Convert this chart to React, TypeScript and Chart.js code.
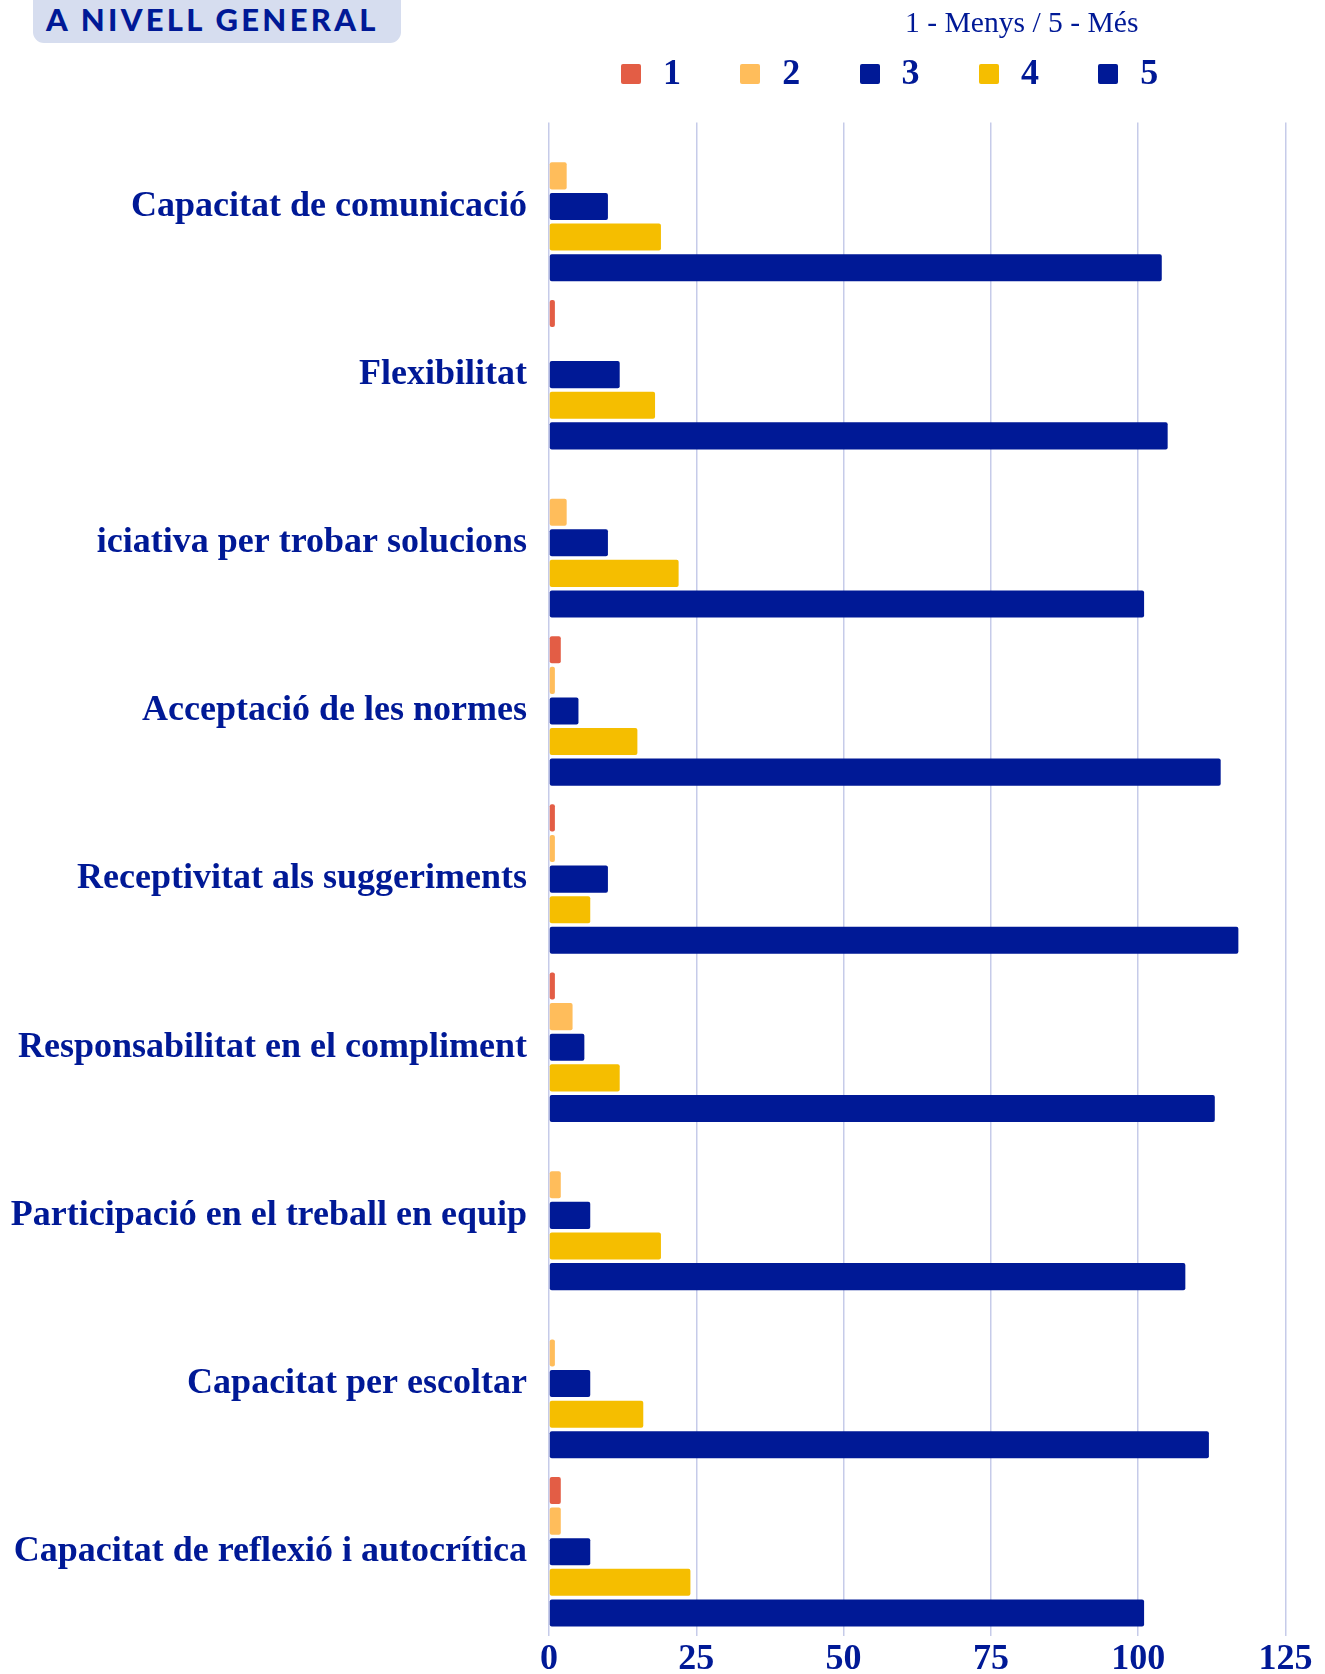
import React, { useEffect, useRef } from 'react';
import { Chart, registerables } from 'chart.js';

Chart.register(...registerables);

const categories = [
  'Capacitat de comunicació',
  'Flexibilitat',
  'iciativa per trobar solucions',
  'Acceptació de les normes',
  'Receptivitat als suggeriments',
  'Responsabilitat en el compliment',
  'Participació en el treball en equip',
  'Capacitat per escoltar',
  'Capacitat de reflexió i autocrítica',
];

const seriesLabels = ['1', '2', '3', '4', '5'];
const values1 = [0, 1, 0, 2, 1, 1, 0, 0, 2];
const values2 = [3, 0, 3, 1, 1, 4, 2, 1, 2];
const values3 = [10, 12, 10, 5, 10, 6, 7, 7, 7];
const values4 = [19, 18, 22, 15, 7, 12, 19, 16, 24];
const values5 = [104, 105, 101, 114, 117, 113, 108, 112, 101];
const seriesColors = ['#E35D45', '#FFBD5B', '#001996', '#F5BE00', '#001996'];
const xTicks = [0, 25, 50, 75, 100, 125];

const titleText = 'A NIVELL GENERAL';
const scaleNote = '1 - Menys / 5 - Més';

const NAVY = '#001996';
const SERIF = "'Liberation Serif', 'Times New Roman', serif";

export default function App() {
  const ref = useRef<HTMLCanvasElement>(null);

  useEffect(() => {
    const canvas = ref.current;
    if (!canvas) return;
    const series = [values1, values2, values3, values4, values5];
    const chart = new Chart(canvas, {
      type: 'bar',
      data: {
        labels: categories,
        datasets: series.map((d, i) => ({
          label: seriesLabels[i],
          data: d,
          backgroundColor: seriesColors[i],
          borderRadius: 2,
          borderSkipped: false,
          categoryPercentage: 0.91,
          barPercentage: 0.885,
        })),
      },
      options: {
        indexAxis: 'y',
        responsive: false,
        animation: false,
        layout: { padding: { top: 122.4, right: 39.5, bottom: 0, left: 0 } },
        plugins: {
          legend: { display: false },
          tooltip: { enabled: false },
          title: { display: false },
        },
        scales: {
          x: {
            min: 0,
            max: 125,
            position: 'bottom',
            grid: { color: '#c6cbe9', lineWidth: 1.5, drawTicks: false },
            border: { display: false },
            ticks: {
              stepSize: 25,
              padding: 9.2,
              color: NAVY,
              maxRotation: 0,
              font: { family: SERIF, weight: 'bold', size: 36, lineHeight: 0.806 },
            },
            afterBuildTicks: (s: any) => {
              s.ticks = xTicks.map((v) => ({ value: v }));
            },
            afterFit: (s: any) => {
              s.height = 38.2;
            },
          },
          y: {
            grid: { display: false, drawTicks: false },
            border: { display: false },
            ticks: {
              padding: 22,
              color: NAVY,
              autoSkip: false,
              font: { family: SERIF, weight: 'bold', size: 36, lineHeight: 0.4 },
            },
            afterFit: (s: any) => {
              s.width = 549;
            },
          },
        },
      },
    });
    return () => chart.destroy();
  }, []);

  return (
    <div style={{ position: 'absolute', left: 0, top: 0, width: 1325, height: 1674, overflow: 'hidden', background: '#fff' }}>
      <canvas ref={ref} width={1325} height={1674} style={{ position: 'absolute', left: 0, top: 0 }} />
      <div
        style={{
          position: 'absolute',
          left: 33,
          top: -12,
          width: 368,
          height: 55,
          borderRadius: 11,
          background: '#d6ddef',
        }}
      />
      <div
        style={{
          position: 'absolute',
          left: 46,
          top: 2,
          fontFamily: 'Lato, sans-serif',
          fontWeight: 900,
          fontSize: 31,
          lineHeight: '34px',
          letterSpacing: '3.3px',
          color: NAVY,
          whiteSpace: 'nowrap',
        }}
      >
        {titleText}
      </div>
      <div
        style={{
          position: 'absolute',
          left: 905,
          top: 7,
          fontFamily: SERIF,
          fontSize: 29.6,
          lineHeight: '30px',
          color: NAVY,
          whiteSpace: 'nowrap',
        }}
      >
        {scaleNote}
      </div>
      {seriesLabels.map((lab, i) => (
        <React.Fragment key={lab}>
          <div
            style={{
              position: 'absolute',
              left: 621 + i * 119.3,
              top: 64,
              width: 20,
              height: 20,
              borderRadius: 2,
              background: seriesColors[i],
            }}
          />
          <div
            style={{
              position: 'absolute',
              left: 663 + i * 119.3,
              top: 54.4,
              fontFamily: SERIF,
              fontWeight: 'bold',
              fontSize: 36,
              lineHeight: '36px',
              color: NAVY,
              whiteSpace: 'nowrap',
            }}
          >
            {lab}
          </div>
        </React.Fragment>
      ))}
    </div>
  );
}
